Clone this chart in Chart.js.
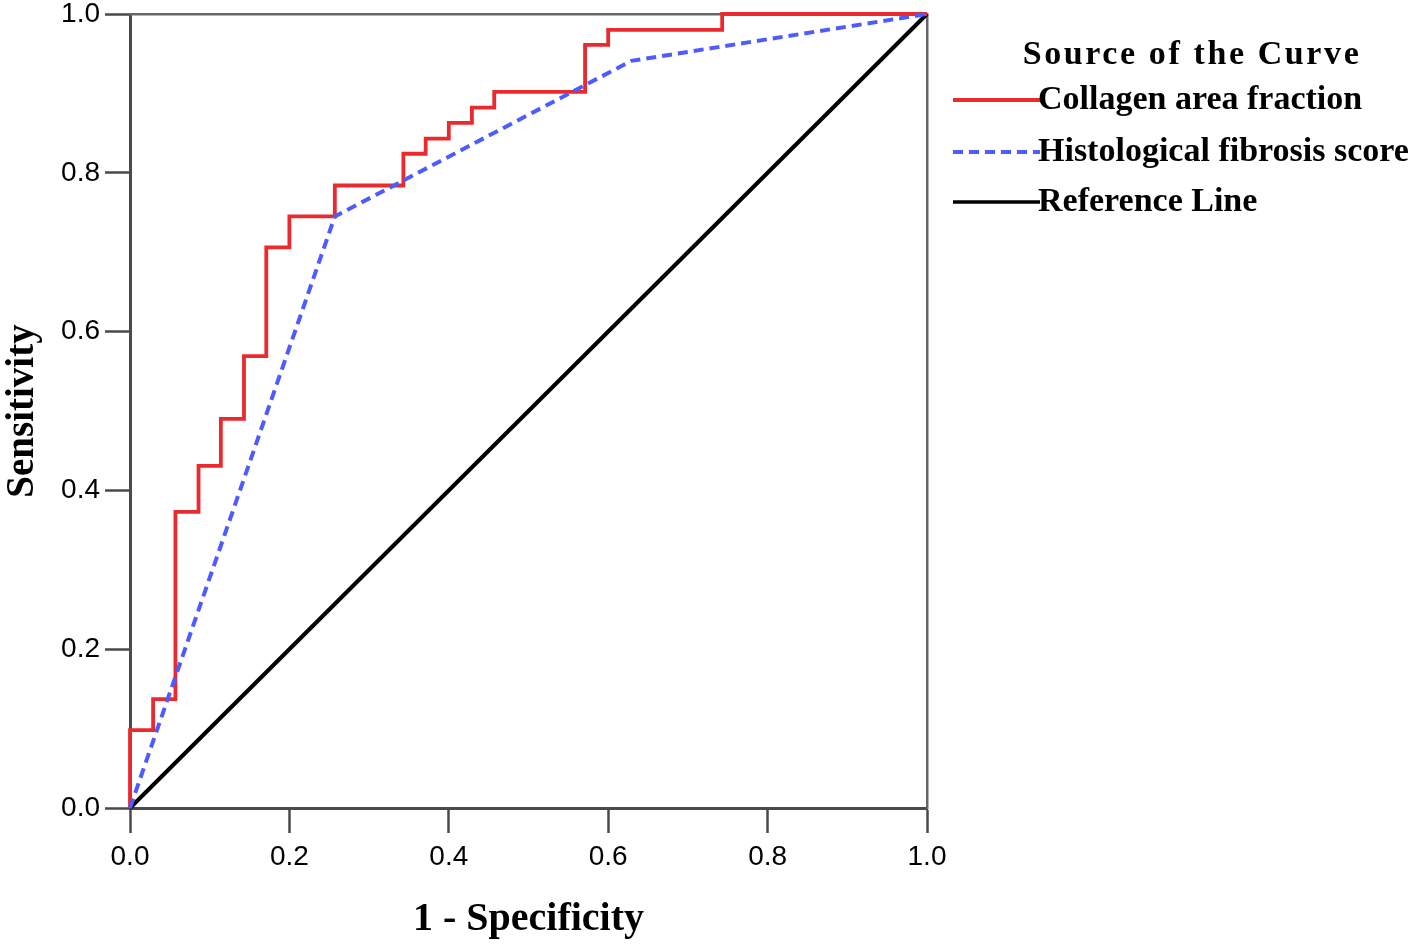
<!DOCTYPE html>
<html>
<head>
<meta charset="utf-8">
<title>ROC curve</title>
<script src="https://cdn.jsdelivr.net/npm/chart.js@4.4.1/dist/chart.umd.min.js"></script>
<style>
  html, body { margin: 0; padding: 0; background: #fff; }
  #wrap { width: 1418px; height: 946px; }
</style>
</head>
<body>
<div id="wrap"><canvas id="roc" width="1418" height="946"></canvas></div>
<script>
// ROC coordinates (1 - specificity, sensitivity)
const collagenFpr  = [0, 0, 0.029, 0.029, 0.057, 0.057, 0.086, 0.086, 0.114, 0.114, 0.143, 0.143, 0.171, 0.171, 0.200, 0.200, 0.257, 0.257, 0.343, 0.343, 0.371, 0.371, 0.400, 0.400, 0.429, 0.429, 0.457, 0.457, 0.571, 0.571, 0.600, 0.600, 0.743, 0.743, 1];
const collagenSens = [0, 0.098, 0.098, 0.137, 0.137, 0.373, 0.373, 0.431, 0.431, 0.490, 0.490, 0.569, 0.569, 0.706, 0.706, 0.745, 0.745, 0.784, 0.784, 0.824, 0.824, 0.843, 0.843, 0.863, 0.863, 0.882, 0.882, 0.902, 0.902, 0.961, 0.961, 0.980, 0.980, 1, 1];

const histoFpr  = [0, 0.257, 0.629, 1];
const histoSens = [0, 0.745, 0.941, 1];

const refFpr  = [0, 1];
const refSens = [0, 1];

const axisTicks = [0, 0.2, 0.4, 0.6, 0.8, 1.0];
const seriesNames = ['Collagen area fraction', 'Histological fibrosis score', 'Reference Line'];
const legendTitle = 'Source of the Curve';

const RED = '#ea2a2e';
const BLUE = '#4d5cff';
const BLACK = '#000000';
const AXIS = '#4a4a4a';
const SERIF = "'Liberation Serif', 'Times New Roman', serif";
const SANS = "'Liberation Sans', Arial, sans-serif";

function toPoints(xs, ys) {
  return xs.map((x, i) => ({ x: x, y: ys[i] }));
}

// Legend drawn to the right of the plot, like the SPSS output
const sideLegend = {
  id: 'sideLegend',
  afterDraw(chart) {
    const ctx = chart.ctx;
    const area = chart.chartArea;
    const styles = [
      { color: RED, dash: [], width: 4 },
      { color: BLUE, dash: [10, 6], width: 4 },
      { color: BLACK, dash: [], width: 3.5 }
    ];
    ctx.save();
    ctx.fillStyle = '#000';
    ctx.textBaseline = 'middle';
    ctx.font = 'bold 34px ' + SERIF;
    ctx.textAlign = 'center';
    if ('letterSpacing' in ctx) ctx.letterSpacing = '2.6px';
    ctx.fillText(legendTitle, area.right + 265, area.top + 41);
    if ('letterSpacing' in ctx) ctx.letterSpacing = '0px';

    ctx.textAlign = 'left';
    const rows = [86, 138, 188];
    seriesNames.forEach((name, i) => {
      const y = area.top + rows[i];
      const s = styles[i];
      ctx.beginPath();
      ctx.strokeStyle = s.color;
      ctx.lineWidth = s.width;
      ctx.setLineDash(s.dash);
      ctx.moveTo(area.right + 26, y);
      ctx.lineTo(area.right + 113, y);
      ctx.stroke();
      ctx.setLineDash([]);
      ctx.fillText(name, area.right + 111, y);
    });
    ctx.restore();
  }
};

const setTicks = scale => { scale.ticks = axisTicks.map(v => ({ value: v })); };

new Chart(document.getElementById('roc'), {
  type: 'line',
  data: {
    datasets: [
      {
        label: seriesNames[1],
        data: toPoints(histoFpr, histoSens),
        borderColor: BLUE,
        borderWidth: 4,
        borderDash: [10, 6],
        order: 0
      },
      {
        label: seriesNames[0],
        data: toPoints(collagenFpr, collagenSens),
        borderColor: RED,
        borderWidth: 3.8,
        order: 1
      },
      {
        label: seriesNames[2],
        data: toPoints(refFpr, refSens),
        borderColor: BLACK,
        borderWidth: 4,
        order: 2
      }
    ]
  },
  options: {
    responsive: false,
    animation: false,
    clip: false,
    elements: {
      point: { radius: 0 },
      line: { tension: 0, fill: false }
    },
    layout: { padding: { left: 0, top: 0, right: 491, bottom: 0 } },
    plugins: {
      legend: { display: false },
      tooltip: { enabled: false }
    },
    scales: {
      x: {
        type: 'linear',
        position: 'bottom',
        min: 0,
        max: 1,
        afterBuildTicks: setTicks,
        afterFit: s => { s.height = 138; s.paddingLeft = 0; s.paddingRight = 0; },
        grid: { drawOnChartArea: false, drawTicks: true, tickLength: 25, tickWidth: 2.5, tickColor: AXIS },
        border: { display: true, color: AXIS, width: 3 },
        ticks: {
          padding: 7,
          maxRotation: 0,
          color: '#000',
          font: { family: SANS, size: 28 },
          callback: v => Number(v).toFixed(1)
        },
        title: {
          display: true,
          text: '1 - Specificity',
          color: '#000',
          font: { family: SERIF, size: 40, weight: 'bold' },
          padding: { top: 0, bottom: 2 }
        }
      },
      y: {
        type: 'linear',
        position: 'left',
        min: 0,
        max: 1,
        afterBuildTicks: setTicks,
        afterFit: s => { s.width = 130; s.paddingTop = 0; s.paddingBottom = 0; },
        grid: { drawOnChartArea: false, drawTicks: true, tickLength: 25, tickWidth: 2.5, tickColor: AXIS },
        border: { display: true, color: AXIS, width: 3 },
        ticks: {
          padding: 5,
          color: '#000',
          font: { family: SANS, size: 28 },
          callback: v => Number(v).toFixed(1)
        },
        title: {
          display: true,
          text: 'Sensitivity',
          color: '#000',
          font: { family: SERIF, size: 39, weight: 'bold' },
          padding: { top: 0, bottom: 0 }
        }
      },
      xTop: {
        type: 'linear',
        position: 'top',
        min: 0,
        max: 1,
        afterFit: s => { s.height = 14; },
        grid: { drawOnChartArea: false, drawTicks: false },
        border: { display: true, color: '#666', width: 2.5 },
        ticks: { display: false }
      },
      yRight: {
        type: 'linear',
        position: 'right',
        min: 0,
        max: 1,
        afterFit: s => { s.width = 0; },
        grid: { drawOnChartArea: false, drawTicks: false },
        border: { display: true, color: '#666', width: 2.5 },
        ticks: { display: false }
      }
    }
  },
  plugins: [sideLegend]
});
</script>
</body>
</html>
